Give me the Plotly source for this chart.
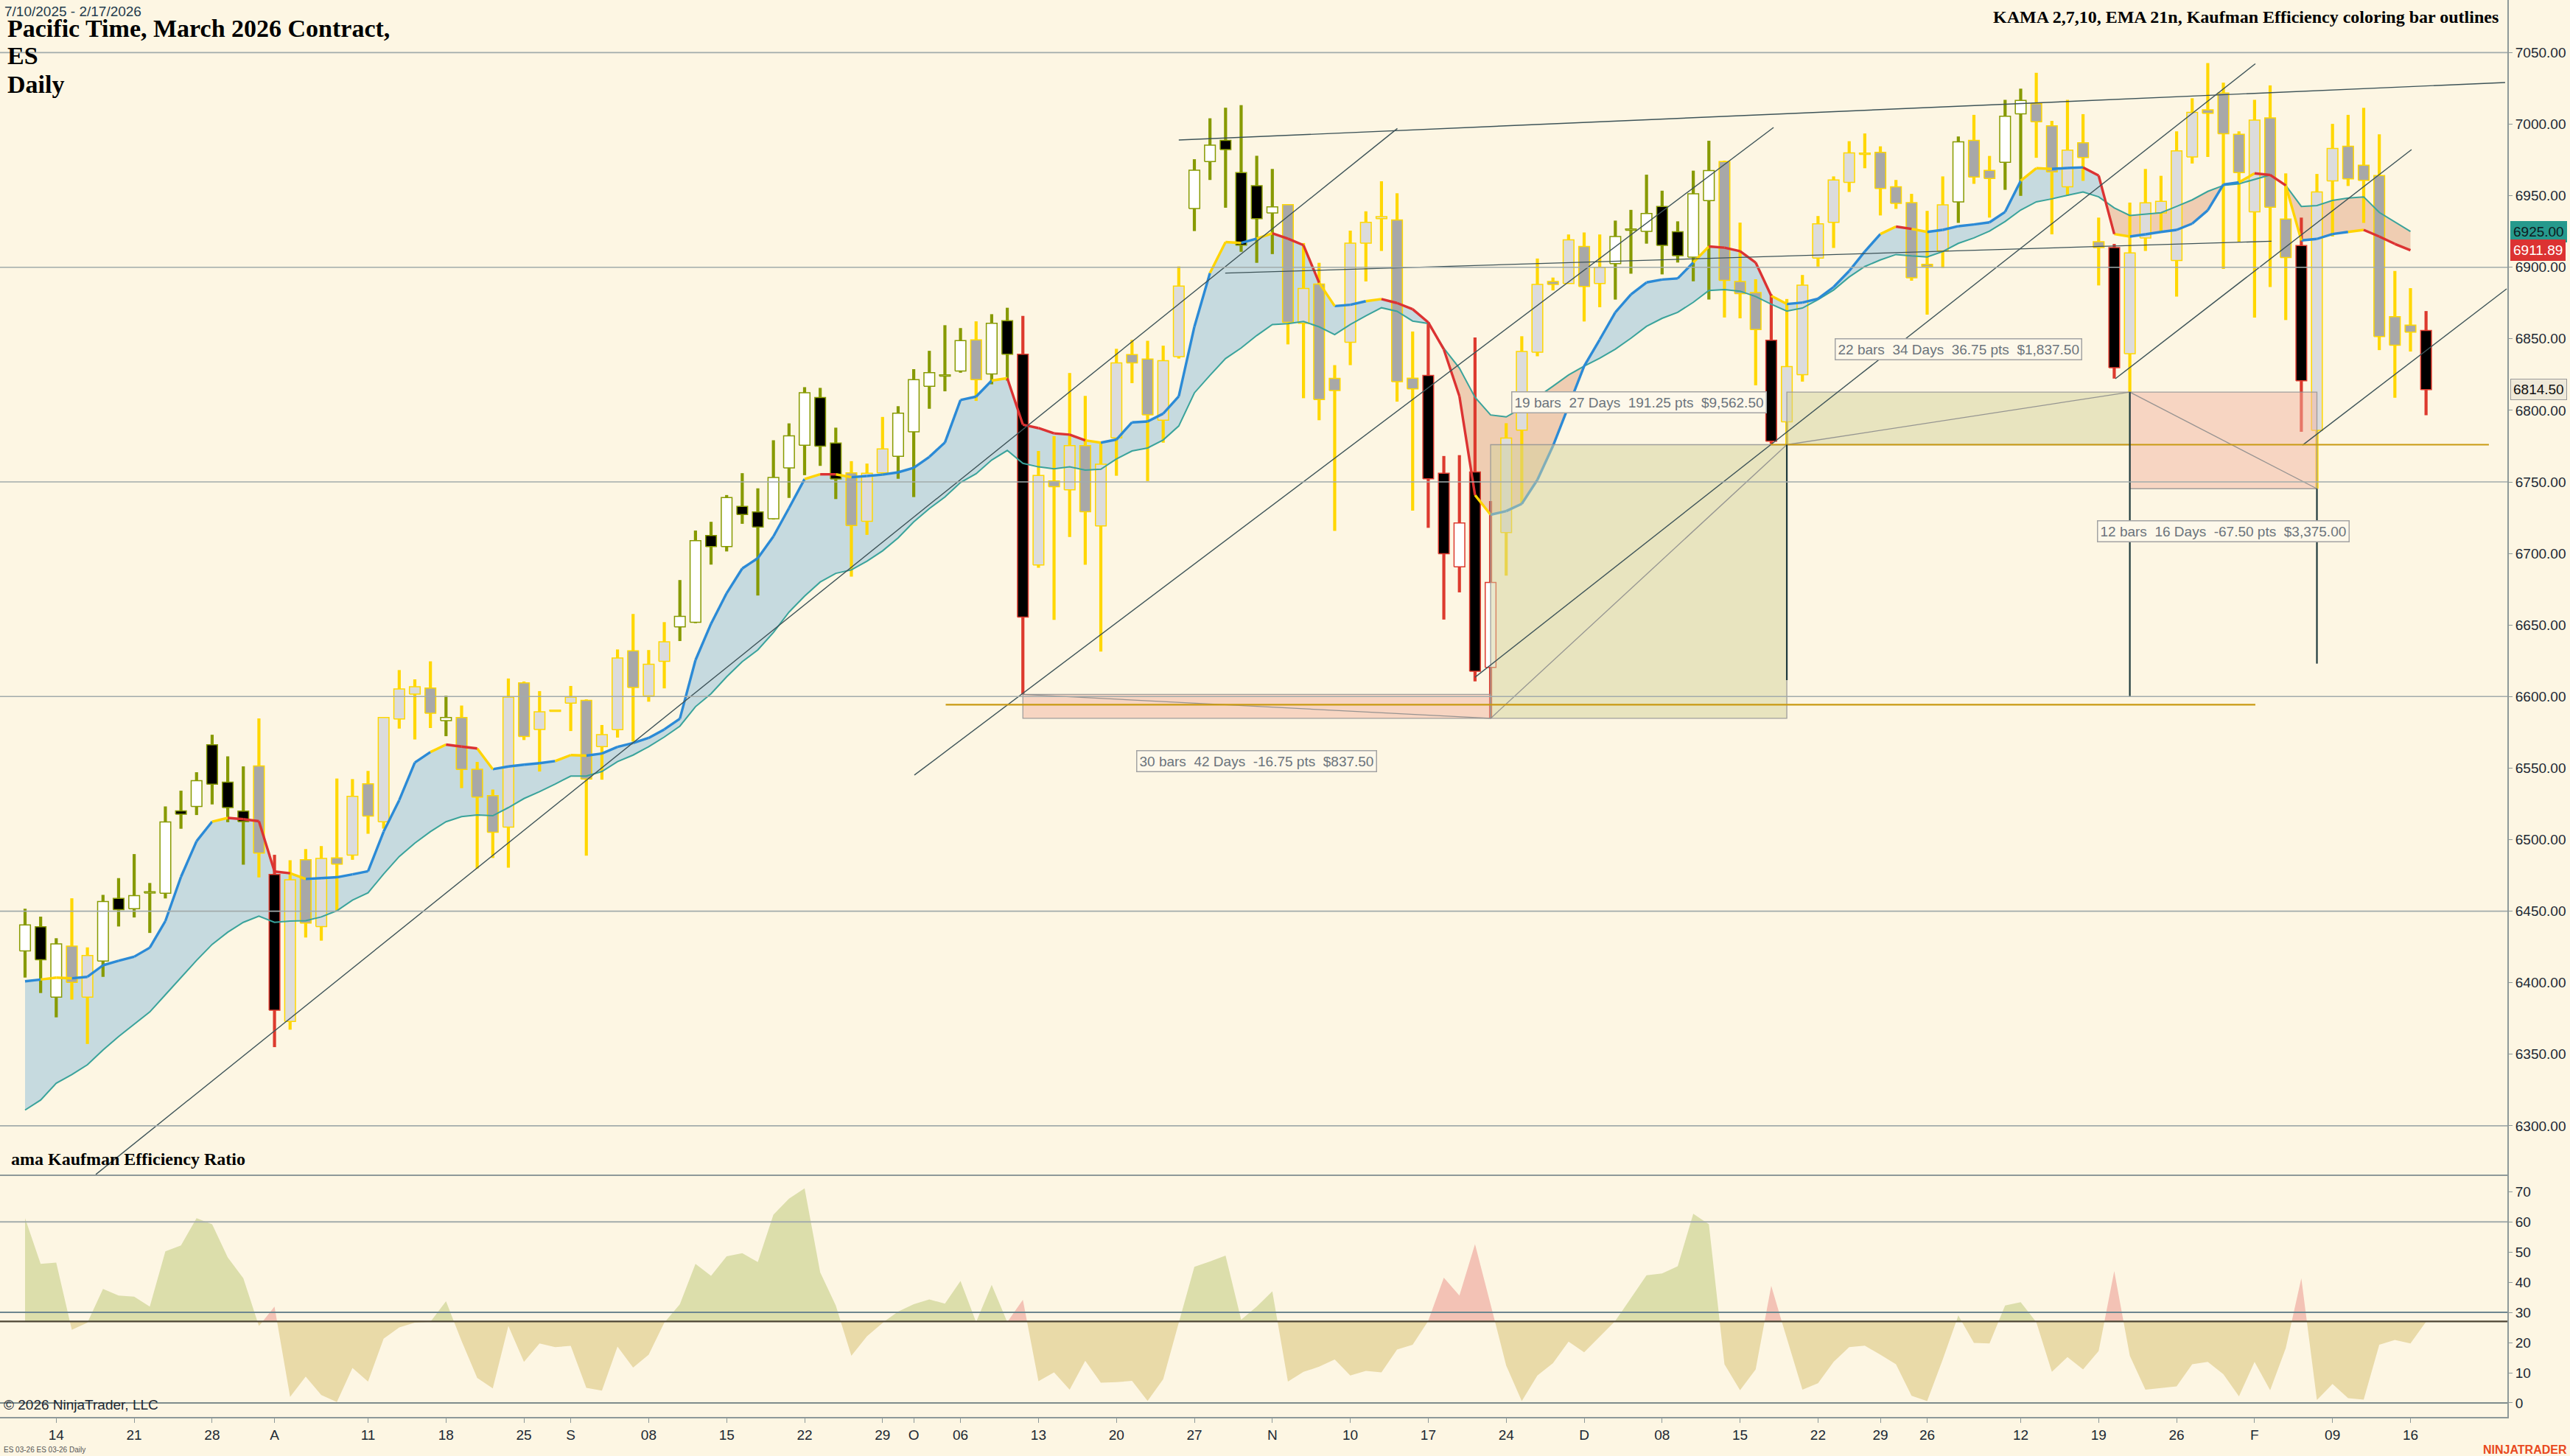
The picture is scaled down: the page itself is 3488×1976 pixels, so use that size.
import numpy as np
import plotly.graph_objects as go

W, H = 3488, 1976

# ES March 2026 contract, daily bars 7/10/2025 - 2/17/2026 (bar index 0..154)
opens = [6422.2, 6439.1, 6389.9, 6425.6, 6389.9, 6415.1, 6458.9, 6451.7, 6463.0, 6462.5,
         6520.1, 6523.2, 6566.3, 6540.2, 6520.0, 6551.5, 6475.7, 6373.0, 6486.0, 6439.2,
         6487.2, 6489.2, 6539.0, 6512.5, 6584.3, 6601.7, 6605.9, 6583.2, 6585.3, 6549.2,
         6530.8, 6508.8, 6609.5, 6577.0, 6590.0, 6595.4, 6597.3, 6565.0, 6576.9, 6631.9,
         6600.4, 6624.6, 6648.7, 6651.9, 6712.5, 6704.8, 6732.9, 6729.0, 6724.2, 6759.8,
         6775.6, 6809.0, 6777.1, 6756.3, 6722.5, 6756.3, 6767.9, 6785.0, 6816.8, 6824.3,
         6827.5, 6849.3, 6825.5, 6862.6, 6839.2, 6692.0, 6750.6, 6744.5, 6775.3, 6719.2,
         6780.8, 6839.0, 6835.9, 6793.1, 6837.5, 6941.0, 6973.9, 6988.7, 6966.2, 6957.0,
         6937.9, 6943.7, 6860.9, 6888.3, 6822.4, 6847.6, 6916.9, 6933.9, 6933.0, 6822.5,
         6824.4, 6756.1, 6690.6, 6757.0, 6620.4, 6714.6, 6786.2, 6840.6, 6890.0, 6888.6,
         6914.5, 6888.6, 6902.5, 6926.2, 6925.1, 6942.4, 6924.8, 6907.0, 6946.6, 6973.9,
         6890.0, 6882.4, 6849.0, 6792.0, 6824.9, 6906.4, 6931.4, 6959.3, 6979.2, 6980.3,
         6956.2, 6945.2, 6902.0, 6911.4, 6945.7, 6988.7, 6967.7, 6973.4, 7007.2, 7014.3,
         6998.8, 6956.2, 6987.0, 6917.9, 6913.7, 6839.6, 6920.5, 6937.9, 6904.7, 6977.1,
         7010.1, 7021.7, 6992.9, 6938.7, 7004.4, 6933.7, 6915.2, 6786.1, 6960.4, 6984.5,
         6971.3, 6964.1, 6865.5, 6859.6, 6855.8]
highs = [6451.7, 6446.2, 6431.1, 6459.0, 6424.7, 6461.4, 6473.1, 6489.9, 6469.7, 6523.2,
         6534.2, 6547.1, 6573.3, 6558.2, 6551.2, 6584.7, 6489.4, 6485.6, 6493.4, 6495.5,
         6542.7, 6542.3, 6548.0, 6585.7, 6618.5, 6612.0, 6624.6, 6600.6, 6593.7, 6554.3,
         6535.0, 6612.6, 6610.5, 6603.8, 6590.5, 6607.4, 6598.0, 6580.1, 6632.9, 6657.7,
         6632.5, 6652.0, 6681.4, 6716.0, 6722.1, 6740.8, 6756.1, 6745.5, 6779.1, 6790.9,
         6816.2, 6815.7, 6787.9, 6764.5, 6762.8, 6795.4, 6802.9, 6828.8, 6841.6, 6859.5,
         6857.5, 6862.2, 6867.2, 6871.7, 6866.0, 6771.6, 6782.0, 6826.1, 6810.1, 6777.4,
         6843.0, 6849.2, 6848.6, 6845.2, 6900.6, 6975.5, 7004.1, 7011.5, 7013.3, 6977.9,
         6968.7, 6944.0, 6916.9, 6903.1, 6831.6, 6925.6, 6939.1, 6960.1, 6951.7, 6855.1,
         6861.5, 6768.1, 6768.7, 6850.9, 6736.6, 6791.0, 6851.8, 6906.1, 6892.8, 6922.9,
         6924.3, 6922.9, 6932.6, 6940.1, 6964.7, 6953.5, 6932.1, 6967.5, 6988.4, 6974.5,
         6931.2, 6891.6, 6881.0, 6877.8, 6894.6, 6935.8, 6963.5, 6988.1, 6993.5, 6984.5,
         6961.0, 6951.3, 6939.4, 6963.5, 6991.4, 7006.5, 6977.8, 7017.0, 7024.8, 7035.9,
         7002.3, 7017.0, 7007.0, 6934.7, 6916.3, 6945.2, 6968.7, 6963.9, 6995.0, 7018.1,
         7042.7, 7029.0, 6995.0, 7017.0, 7027.1, 6965.6, 6934.7, 6965.2, 7000.2, 7006.5,
         7011.4, 6992.9, 6897.4, 6885.4, 6869.4]
lows = [6403.6, 6392.8, 6375.8, 6388.2, 6357.2, 6404.1, 6439.3, 6445.6, 6434.8, 6458.9,
        6507.6, 6517.2, 6524.6, 6512.2, 6482.5, 6473.6, 6355.0, 6367.2, 6431.6, 6429.4,
        6450.3, 6485.9, 6504.1, 6507.7, 6577.6, 6570.0, 6578.0, 6572.3, 6536.0, 6479.8,
        6487.2, 6480.4, 6569.6, 6547.6, 6589.5, 6575.9, 6488.8, 6541.9, 6571.3, 6568.5,
        6596.4, 6605.7, 6638.8, 6651.3, 6692.2, 6701.4, 6720.7, 6670.6, 6723.7, 6738.8,
        6754.7, 6761.2, 6738.0, 6683.8, 6713.0, 6755.1, 6752.2, 6739.4, 6801.1, 6813.3,
        6826.3, 6806.6, 6818.2, 6820.8, 6601.5, 6690.0, 6653.6, 6711.5, 6692.1, 6631.4,
        6754.3, 6819.0, 6750.6, 6777.4, 6836.2, 6925.3, 6961.0, 6941.6, 6910.8, 6903.1,
        6909.2, 6846.1, 6808.5, 6793.1, 6715.8, 6831.6, 6890.1, 6911.4, 6806.1, 6729.9,
        6717.9, 6653.8, 6672.8, 6610.6, 6584.75, 6684.5, 6734.7, 6837.8, 6883.8, 6888.6,
        6862.1, 6872.1, 6877.4, 6895.5, 6916.5, 6895.0, 6903.3, 6890.2, 6877.4, 6864.9,
        6864.3, 6817.5, 6776.5, 6776.0, 6820.1, 6900.5, 6913.5, 6952.6, 6969.2, 6936.2,
        6940.8, 6890.6, 6866.9, 6899.5, 6931.0, 6958.3, 6934.7, 6954.1, 6949.9, 6976.5,
        6923.0, 6949.9, 6960.4, 6887.3, 6822.2, 6812.75, 6911.4, 6924.7, 6879.5, 6972.5,
        6977.1, 6898.8, 6917.7, 6864.8, 6886.2, 6863.1, 6785.0, 6745.25, 6921.5, 6956.8,
        6931.0, 6842.1, 6808.8, 6841.1, 6796.6]
closes = [6440.4, 6416.1, 6427.1, 6400.2, 6419.0, 6456.8, 6451.1, 6460.9, 6463.2, 6512.4,
          6517.7, 6541.2, 6538.7, 6522.4, 6512.6, 6490.6, 6380.8, 6471.9, 6441.7, 6486.9,
          6482.9, 6530.2, 6516.5, 6585.3, 6605.3, 6606.9, 6588.3, 6585.3, 6549.0, 6529.7,
          6505.2, 6599.6, 6572.1, 6589.3, 6590.2, 6599.6, 6542.3, 6573.4, 6626.9, 6606.3,
          6622.5, 6638.2, 6656.0, 6708.9, 6704.8, 6739.0, 6727.2, 6718.5, 6753.1, 6782.2,
          6812.3, 6775.0, 6752.0, 6719.5, 6756.1, 6773.0, 6798.0, 6821.4, 6826.3, 6824.5,
          6848.7, 6821.4, 6860.9, 6839.2, 6655.5, 6754.5, 6746.6, 6775.3, 6729.1, 6762.3,
          6833.2, 6833.2, 6796.8, 6834.7, 6886.8, 6967.8, 6985.3, 6982.2, 6915.4, 6933.9,
          6942.2, 6861.5, 6885.2, 6807.6, 6813.8, 6916.9, 6931.4, 6935.4, 6820.0, 6815.0,
          6752.2, 6699.8, 6721.3, 6617.6, 6679.7, 6780.7, 6841.2, 6888.0, 6888.0, 6919.2,
          6886.6, 6900.0, 6921.5, 6926.4, 6937.6, 6915.3, 6908.1, 6951.3, 6967.5, 6890.8,
          6881.6, 6856.5, 6778.4, 6830.6, 6887.5, 6930.3, 6961.0, 6979.9, 6979.4, 6955.1,
          6944.6, 6892.7, 6900.5, 6943.6, 6987.6, 6963.1, 6962.0, 7005.5, 7016.6, 7001.7,
          6966.6, 6981.8, 6976.7, 6913.7, 6829.8, 6910.0, 6945.0, 6946.1, 6981.3, 7008.2,
          7007.6, 6993.3, 6966.2, 7002.8, 6941.9, 6906.8, 6820.7, 6952.6, 6983.0, 6961.8,
          6960.8, 6851.6, 6845.5, 6854.7, 6814.5]

# Kaufman efficiency state per bar: u = efficient up, d = efficient down, n = inefficient
regime = list("uuu" "nn" "uuuuuuuuuu" "n" "d" "nnnnnnnnnn" "u" "nnnnnnnnnnnnnn"
              "uuuuuuuuuuu" "nnn" "uuuuu" "n" "uu" "d" "nnnnnnnnnn" "uuuuuu" "nnnnnnnnn"
              "ddddd" "nnnnnnn" "uuuuuuu" "nnn" "d" "nnnnnnnnnnn" "u" "nn" "uu" "nnnnn"
              "d" "nnnnnnnnnnn" "d" "nnnnnnn" "d")

# KAMA 2,7,10 and EMA 21 (plotted on bar close, so no value on the last bar)
kama = [6401.0, 6402.2, 6403.6, 6403.1, 6404.1, 6412.2, 6415.3, 6418.2, 6424.5, 6443.1,
        6474.0, 6498.9, 6512.6, 6515.2, 6514.3, 6512.9, 6477.7, 6476.5, 6472.5, 6473.1,
        6473.7, 6475.7, 6477.9, 6505.6, 6527.6, 6553.9, 6561.2, 6566.4, 6565.0, 6563.7,
        6549.2, 6551.1, 6552.4, 6553.4, 6554.9, 6559.1, 6558.7, 6560.2, 6564.8, 6567.5,
        6571.1, 6577.0, 6584.5, 6625.4, 6650.9, 6672.2, 6689.5, 6696.7, 6711.9, 6731.7,
        6752.0, 6755.3, 6755.3, 6753.3, 6754.1, 6755.1, 6756.7, 6759.8, 6767.5, 6777.5,
        6807.2, 6809.6, 6820.8, 6822.5, 6790.0, 6787.6, 6783.9, 6783.0, 6779.0, 6777.4,
        6779.6, 6791.6, 6792.2, 6797.7, 6809.8, 6858.4, 6896.0, 6917.6, 6917.0, 6920.0,
        6923.7, 6920.0, 6915.4, 6889.2, 6872.9, 6873.8, 6876.3, 6877.8, 6875.0, 6870.7,
        6861.5, 6842.6, 6809.9, 6740.8, 6727.1, 6729.6, 6734.7, 6751.4, 6775.1, 6803.0,
        6830.9, 6849.5, 6868.5, 6881.0, 6889.4, 6891.4, 6892.2, 6903.3, 6914.5, 6913.7,
        6911.2, 6903.3, 6880.0, 6874.3, 6875.3, 6878.0, 6886.2, 6897.4, 6911.0, 6923.2,
        6928.4, 6926.8, 6924.7, 6926.1, 6928.7, 6929.9, 6931.4, 6938.7, 6960.4, 6969.2,
        6968.7, 6969.4, 6969.8, 6964.1, 6923.2, 6921.5, 6923.0, 6924.7, 6926.1, 6930.5,
        6939.8, 6957.8, 6959.3, 6965.6, 6964.5, 6957.2, 6918.8, 6919.8, 6923.2, 6924.7,
        6926.1, 6921.5, 6916.3, 6911.89]
# KAMA plot state of the segment ending at each bar: b = rising, y = flat, r = falling
kama_state = list("bb" "yy" "bbbbbbbbb" "y" "rrrr" "y" "bbbbbbbb" "y" "rr" "y" "bbbb" "yy"
                  "bbbbbbbbbbbbbb" "y" "r" "y" "bbbbbbbbb" "y" "rrrrr" "y" "bbbbbbb" "yy"
                  "b" "y" "rrr" "y" "bb" "y" "rrrrrr" "y" "bbbbbbbbbbbbb" "y" "rrrr" "y"
                  "bbbbbb" "y" "r" "y" "bbbbbb" "yy" "bb" "rr" "y" "bbbbbbb" "y" "rr" "y"
                  "bbb" "y" "rrr")
ema = [6311.0, 6318.0, 6329.8, 6335.8, 6342.7, 6353.0, 6362.4, 6371.0, 6379.6, 6391.6,
       6403.6, 6415.6, 6426.8, 6435.3, 6442.2, 6446.5, 6442.2, 6443.1, 6443.4, 6446.0,
       6450.3, 6457.7, 6462.8, 6476.0, 6488.2, 6497.6, 6505.6, 6512.5, 6516.1, 6517.2,
       6516.7, 6522.4, 6528.7, 6533.5, 6538.8, 6544.4, 6544.4, 6547.6, 6554.5, 6559.1,
       6565.0, 6571.7, 6579.3, 6592.9, 6602.0, 6613.8, 6624.4, 6632.6, 6644.8, 6659.0,
       6670.2, 6680.0, 6686.1, 6688.5, 6694.6, 6701.8, 6710.9, 6722.1, 6731.3, 6739.4,
       6749.6, 6755.7, 6765.3, 6772.0, 6763.0, 6760.5, 6759.2, 6760.5, 6758.3, 6758.9,
       6766.0, 6771.6, 6773.7, 6779.3, 6789.1, 6812.2, 6824.5, 6836.2, 6843.6, 6852.3,
       6860.0, 6860.6, 6862.1, 6858.4, 6852.9, 6860.0, 6866.1, 6871.7, 6869.2, 6862.4,
       6860.7, 6843.4, 6829.5, 6809.1, 6796.8, 6795.4, 6801.6, 6809.1, 6816.9, 6824.7,
       6830.9, 6836.4, 6842.8, 6850.4, 6858.7, 6864.3, 6868.5, 6875.5, 6883.8, 6884.4,
       6883.3, 6879.6, 6874.2, 6869.4, 6871.5, 6877.4, 6884.1, 6893.2, 6900.5, 6905.1,
       6908.9, 6907.9, 6907.2, 6911.0, 6916.7, 6920.5, 6925.3, 6932.0, 6940.0, 6945.7,
       6947.8, 6950.3, 6952.6, 6949.2, 6941.5, 6936.2, 6937.3, 6938.1, 6942.5, 6947.1,
       6953.0, 6957.2, 6958.3, 6961.4, 6964.5, 6957.2, 6942.5, 6943.1, 6946.7, 6948.4,
       6949.2, 6938.3, 6931.6, 6925.00]

# Kaufman efficiency ratio (lower panel)
er = [61.2, 46.1, 46.5, 24.2, 26.6, 37.8, 35.6, 35.2, 31.9, 50.2,
      52.2, 61.2, 59.2, 48.2, 41.3, 25.5, 31.9, 2.0, 8.7, 2.6,
      0.3, 11.6, 7.1, 21.3, 25.0, 26.6, 26.9, 33.7, 20.5, 8.3,
      4.8, 25.5, 13.6, 19.7, 18.5, 18.9, 5.0, 4.1, 18.7, 11.7,
      16.0, 26.6, 32.7, 46.1, 42.1, 48.6, 49.6, 46.7, 62.4, 67.7,
      71.1, 43.3, 32.3, 15.6, 22.1, 26.6, 30.3, 32.7, 34.3, 32.9,
      40.4, 26.8, 39.1, 26.8, 34.2, 7.2, 10.1, 4.4, 14.0, 6.7,
      6.9, 7.3, 0.7, 7.9, 26.6, 45.1, 46.9, 48.8, 27.6, 31.9,
      37.0, 7.1, 10.3, 12.0, 14.4, 9.1, 10.6, 10.1, 17.7, 19.3,
      27.2, 41.5, 35.6, 52.6, 32.7, 12.4, 0.6, 9.1, 13.2, 20.3,
      16.8, 22.1, 27.2, 34.7, 42.3, 42.9, 45.3, 62.7, 59.2, 12.8,
      4.2, 11.1, 38.8, 21.3, 4.4, 6.5, 13.6, 18.5, 19.0, 16.0,
      12.8, 2.4, 0.6, 14.4, 29.0, 19.9, 19.7, 32.3, 33.4, 26.8,
      10.3, 15.2, 11.1, 17.2, 43.7, 15.6, 4.4, 4.9, 5.5, 12.8,
      13.6, 9.5, 2.2, 13.6, 4.2, 18.1, 41.3, 1.0, 6.3, 1.6,
      1.1, 19.3, 20.9, 19.7, 26.9]
er_base = 27.0
er_levels = [0, 30, 60]

# x axis labels (bar index of the first session of week / month)
tick_bars = [2, 7, 12, 16, 22, 27, 32, 35, 40, 45, 50, 55, 57, 60, 65, 70, 75, 80,
             85, 90, 95, 100, 105, 110, 115, 119, 122, 128, 133, 138, 143, 148, 153]
tick_text = ['14', '21', '28', 'A', '11', '18', '25', 'S', '08', '15', '22', '29', 'O', '06',
             '13', '20', '27', 'N', '10', '17', '24', 'D', '08', '15', '22', '29', '26', '12',
             '19', '26', 'F', '09', '16']

price_levels = [6300, 6450, 6600, 6750, 6900, 7050]

# drawing objects: range measurements between bar lows
measure_from = [64, 94, 113, 135]
measure_to = [94, 113, 135, 147]
measure_days = [42, 27, 34, 16]
point_value = 50

# trend lines (bar, price) -> (bar, price)
trend_x0 = [4.54, 57.04, 93.0, 74.0, 76.98, 134.07, 146.08]
trend_y0 = [6266.0, 6545.1, 6613.5, 6988.9, 6895.9, 6822.1, 6775.7]
trend_x1 = [88.02, 112.15, 143.05, 159.07, 144.09, 153.07, 159.17]
trend_y1 = [6997.0, 6997.7, 7042.2, 7029.1, 6918.2, 6982.2, 6884.9]

# horizontal gold lines and vertical markers
gold_level = [6594.25, 6776.0]
gold_from = [59.05, 111.96]
gold_to = [143.05, 158.03]
vline_bar = [113, 135, 147]
vline_top = [6776.0, 6812.75, 6745.25]
vline_bottom = [6611.5, 6600.0, 6623.0]

# ---------------------------------------------------------------------------
BG = '#fdf6e3'
SANS = 'Liberation Sans, Arial, sans-serif'
SERIF = 'Liberation Serif, Times New Roman, serif'
OUTLINE = {'u': '#879a00', 'n': '#ffd700', 'd': '#dd3a2e'}
KAMA_COL = {'b': '#2b8ad6', 'y': '#ffd400', 'r': '#dc3232'}
BORDER = '#8e9999'

n = len(closes)
idx = np.arange(n)
o, h, l, c = map(np.array, (opens, highs, lows, closes))

fig = go.Figure()


def split_runs(xs, top, bot):
    """split the area between two series into runs of constant sign"""
    top = np.asarray(top, float)
    bot = np.asarray(bot, float)
    d = top - bot
    d = np.where(d == 0, -1e-9, d)
    pts = []
    for i in range(len(xs)):
        if i > 0 and d[i - 1] * d[i] < 0:
            t = d[i - 1] / (d[i - 1] - d[i])
            xc = xs[i - 1] + t * (xs[i] - xs[i - 1])
            yc = bot[i - 1] + t * (bot[i] - bot[i - 1])
            pts.append((xc, yc, yc, None))
        pts.append((xs[i], top[i], bot[i], i))
    runs, cur = [], []
    for p in pts:
        cur.append(p)
        if p[3] is None and len(cur) > 1:
            runs.append(cur)
            cur = [p]
    runs.append(cur)
    out = []
    for r in runs:
        ids = [p[3] for p in r if p[3] is not None]
        sign = 1 if d[ids[0]] > 0 else -1
        px = [p[0] for p in r] + [p[0] for p in r[::-1]]
        py = [p[1] for p in r] + [p[2] for p in r[::-1]]
        out.append((px, py, sign, ids))
    return out


def add_polys(polys, fill, line_color=None, line_width=0, xa='x', ya='y'):
    xs, ys = [], []
    for px, py in polys:
        xs += list(px) + [None]
        ys += list(py) + [None]
    if not xs:
        return
    fig.add_trace(go.Scatter(x=xs, y=ys, mode='lines', fill='toself', fillcolor=fill,
                             line=dict(color=line_color or fill, width=line_width),
                             hoverinfo='skip', showlegend=False, xaxis=xa, yaxis=ya))


def add_segments(segs, color, width, xa='x', ya='y', dash=None):
    xs, ys = [], []
    for x0, y0, x1, y1 in segs:
        xs += [x0, x1, None]
        ys += [y0, y1, None]
    fig.add_trace(go.Scatter(x=xs, y=ys, mode='lines',
                             line=dict(color=color, width=width, dash=dash),
                             hoverinfo='skip', showlegend=False, xaxis=xa, yaxis=ya))


# KAMA / EMA band
nk = len(kama)
band = split_runs(idx[:nk], kama, ema)
add_polys([(p[0], p[1]) for p in band if p[2] > 0], '#c6dadf')
add_polys([(p[0], p[1]) for p in band if p[2] < 0], '#efcdb2')

# candle wicks (drawn outside the body so bodies stay clean)
body_lo = np.minimum(o, c)
body_hi = np.maximum(o, c)
mid = (body_lo + body_hi) / 2
half = np.maximum((body_hi - body_lo) / 2, 0.45)
for r in 'nud':
    segs = []
    for i in idx:
        if regime[i] != r:
            continue
        if h[i] > mid[i] + half[i]:
            segs.append((i, mid[i] + half[i], i, h[i]))
        if l[i] < mid[i] - half[i]:
            segs.append((i, l[i], i, mid[i] - half[i]))
    add_segments(segs, OUTLINE[r], 4.2)

# candle bodies
bw = 0.345
for r in 'nud':
    for up in (True, False):
        if r == 'n':
            fill = '#dcdcdc' if up else '#a8a8a8'
        else:
            fill = '#ffffff' if up else '#000000'
        polys = []
        for i in idx:
            if regime[i] != r or (c[i] >= o[i]) != up:
                continue
            lo_, hi_ = mid[i] - half[i], mid[i] + half[i]
            polys.append(([i - bw, i + bw, i + bw, i - bw, i - bw], [lo_, lo_, hi_, hi_, lo_]))
        add_polys(polys, fill, OUTLINE[r], 1.5)

# EMA and colour-coded KAMA
fig.add_trace(go.Scatter(x=idx[:len(ema)], y=ema, mode='lines', line=dict(color='#3aa39b', width=2),
                         hoverinfo='skip', showlegend=False))
for s in 'byr':
    segs = [(i - 1, kama[i - 1], i, kama[i]) for i in range(1, nk) if kama_state[i] == s]
    add_segments(segs, KAMA_COL[s], 3.4)

# range measurements
annotations = []
for a, b, days in zip(measure_from, measure_to, measure_days):
    p0, p1 = lows[a], lows[b]
    pts = p1 - p0
    gain = pts >= 0
    fill = 'rgba(211,210,156,0.5)' if gain else 'rgba(241,180,162,0.5)'
    add_polys([([a, b, b, a, a], [p0, p0, p1, p1, p0])], fill, 'rgba(150,150,150,0.9)', 1.3)
    add_segments([(a, p0, b, p1)], 'rgba(140,140,140,0.9)', 1.3)
    text = f"{b - a} bars  {days} Days  {pts:.2f} pts  ${abs(pts) * point_value:,.2f}"
    annotations.append(dict(x=(a + b) / 2, y=p1, xref='x', yref='y', text=text, showarrow=False,
                            yshift=58 if gain else -58, font=dict(family=SANS, size=19, color='#6b747c'),
                            bgcolor='#fdf8ea', bordercolor='#a3a3a3', borderwidth=1.5, borderpad=3))

# trend lines, gold lines, vertical markers
add_segments(list(zip(trend_x0, trend_y0, trend_x1, trend_y1)), '#3d5358', 1.4)
add_segments([(x0, y, x1, y) for y, x0, x1 in zip(gold_level, gold_from, gold_to)], '#c99a12', 2.2)
add_segments([(x, y0, x, y1) for x, y0, y1 in zip(vline_bar, vline_top, vline_bottom)], '#1f3a3d', 2.2)

# horizontal levels
add_segments([(-5, y, 170, y) for y in price_levels], '#a2abab', 1.6)

# --- efficiency ratio panel
runs = split_runs(idx, er, [er_base] * n)
green, red, tan = [], [], []
for px, py, sign, ids in runs:
    if sign < 0:
        tan.append((px, py))
    elif any(regime[i] == 'd' for i in ids):
        red.append((px, py))
    else:
        green.append((px, py))
add_polys(tan, '#e9daa8', xa='x2', ya='y2')
add_polys(green, '#dcdeab', xa='x2', ya='y2')
add_polys(red, '#f3c2b5', xa='x2', ya='y2')
lvl_col = {0: '#7f8c8c', 30: '#6d8790', 60: '#a2abab'}
for lv in er_levels:
    add_segments([(-5, lv, 170, lv)], lvl_col[lv], 2, xa='x2', ya='y2')
add_segments([(-5, er_base, 170, er_base)], '#4d4535', 2.4, xa='x2', ya='y2')


# ---------------------------------------------------------------------------
def fx(x):
    return x / W


def fy(y):
    return 1 - y / H


x_left = -34 / 21.16
x_right = (3403 - 34) / 21.16
xdom = [0, fx(3403)]
price_dom = [fy(1594), 1]
er_dom = [fy(1923), fy(1594)]

fig.update_layout(
    width=W, height=H, margin=dict(l=0, r=0, t=0, b=0),
    paper_bgcolor=BG, plot_bgcolor=BG, showlegend=False,
    xaxis=dict(domain=xdom, range=[x_left, x_right], anchor='y', showticklabels=False,
               showgrid=False, zeroline=False, showline=True, linecolor=BORDER, linewidth=2,
               ticks=''),
    yaxis=dict(domain=price_dom, range=[6265.96, 7086.77], side='right', anchor='x',
               dtick=50, tick0=0, tickformat='.2f', showgrid=False, zeroline=False,
               showline=True, linecolor=BORDER, linewidth=2, ticks='outside', ticklen=5,
               tickcolor=BORDER, tickfont=dict(family=SANS, size=19, color='#1c2833')),
    xaxis2=dict(domain=xdom, range=[x_left, x_right], anchor='y2', matches='x',
                tickvals=tick_bars, ticktext=tick_text, showgrid=False, zeroline=False,
                showline=True, linecolor=BORDER, linewidth=2, ticks='outside', ticklen=6,
                tickcolor=BORDER, tickfont=dict(family=SANS, size=19, color='#1c2833')),
    yaxis2=dict(domain=er_dom, range=[-4.64, 75.68], side='right', anchor='x2',
                dtick=10, tick0=0, showgrid=False, zeroline=False, showline=True,
                linecolor=BORDER, linewidth=2, ticks='outside', ticklen=5, tickcolor=BORDER,
                tickfont=dict(family=SANS, size=19, color='#1c2833')),
)

# price markers on the right axis
tags = [(ema[-1], '#26998c', '#0d1b1e', None), (kama[-1], '#dc3232', '#ffffff', None),
        (closes[-1], '#efe9d9', '#111111', '#9a9a9a')]
for val, bg, fg, bd in tags:
    annotations.append(dict(x=fx(3407), y=val, xref='paper', yref='y', xanchor='left',
                            text=f"{val:.2f}", showarrow=False, bgcolor=bg,
                            bordercolor=bd or bg, borderwidth=1, borderpad=3,
                            font=dict(family=SANS, size=19, color=fg)))

texts = [
    ("7/10/2025 - 2/17/2026", 4, 15, 'left', 19, False, '#1f3b4d', SANS),
    ("Pacific Time, March 2026 Contract,", 8, 38, 'left', 34, True, '#000000', SERIF),
    ("ES", 8, 76, 'left', 34, True, '#000000', SERIF),
    ("Daily", 8, 115, 'left', 34, True, '#000000', SERIF),
    ("KAMA 2,7,10, EMA 21n, Kaufman Efficiency coloring bar outlines", 3393, 23, 'right', 24, True, '#000000', SERIF),
    ("ama Kaufman Efficiency Ratio", 13, 1573, 'left', 24, True, '#000000', SERIF),
]
for t, x, y, anc, size, bold, col, fam in texts:
    annotations.append(dict(x=fx(x), y=fy(y), xref='paper', yref='paper', xanchor=anc,
                            yanchor='middle', text=f"<b>{t}</b>" if bold else t, showarrow=False,
                            font=dict(family=fam, size=size, color=col)))
annotations += [
    dict(x=fx(3), y=fy(1906), xref='paper', yref='paper', xanchor='left', yanchor='middle',
         text='© 2026 NinjaTrader, LLC', showarrow=False,
         font=dict(family=SANS, size=19, color='#1c2833')),
    dict(x=fx(3), y=fy(1967), xref='paper', yref='paper', xanchor='left', yanchor='middle',
         text='ES 03-26 ES 03-26 Daily', showarrow=False,
         font=dict(family=SANS, size=10, color='#555555')),
    dict(x=fx(3486), y=fy(1967), xref='paper', yref='paper', xanchor='right', yanchor='middle',
         text='<b>NINJATRADER</b>', showarrow=False,
         font=dict(family=SANS, size=16, color='#e8491d')),
]
fig.update_layout(annotations=annotations)

fig.write_html("out.html", config={'displayModeBar': False},
               post_script="document.body.style.margin='0';document.body.style.overflow='hidden';")
